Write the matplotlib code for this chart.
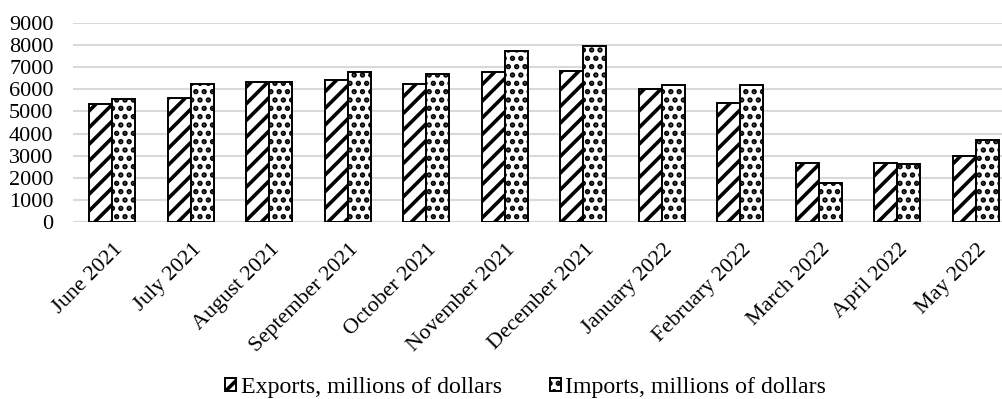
import matplotlib
matplotlib.use("Agg")
import matplotlib.pyplot as plt
import numpy as np

categories = ["June 2021", "July 2021", "August 2021", "September 2021", "October 2021",
              "November 2021", "December 2021", "January 2022", "February 2022",
              "March 2022", "April 2022", "May 2022"]
exports = [5320, 5620, 6310, 6410, 6260, 6790, 6820, 6010, 5360, 2650, 2660, 2970]
imports = [5570, 6230, 6350, 6780, 6700, 7730, 7940, 6190, 6190, 1780, 2620, 3730]
yticks = [0, 1000, 2000, 3000, 4000, 5000, 6000, 7000, 8000, 9000]

plt.rcParams['font.family'] = ['Liberation Serif', 'DejaVu Serif']
plt.rcParams['hatch.linewidth'] = 2.6

fig = plt.figure(figsize=(10.03, 3.99), dpi=100)
ax = fig.add_axes([73/1003, (399-222)/399, (1003-73)/1003, (222-23)/399])

x = np.arange(len(categories))
w = 0.293
b1 = ax.bar(x - w/2, exports, w, color='white', edgecolor='black', hatch='//', linewidth=1.4,
            label='Exports, millions of dollars', zorder=3)
b2 = ax.bar(x + w/2, imports, w, color='white', edgecolor='black', hatch='..', linewidth=1.4,
            label='Imports, millions of dollars', zorder=3)

ax.set_xlim(-0.497, 11.35)
ax.set_ylim(0, 9000)
ax.set_yticks(yticks)
ax.set_yticklabels([str(v) for v in yticks], fontsize=16)
ax.yaxis.grid(True, color='#d9d9d9', linewidth=1.5, zorder=0)
ax.set_axisbelow(True)
for s in ax.spines.values():
    s.set_visible(False)
ax.axhline(0, color='#d9d9d9', linewidth=1.5, zorder=1)
ax.tick_params(axis='both', length=0)
ax.tick_params(axis='y', pad=14)
ax.set_xticks(x + 0.02)
ax.set_xticklabels(categories, rotation=45, ha='right', va='top', rotation_mode='anchor', fontsize=16)
ax.tick_params(axis='x', pad=13)

leg = fig.legend(handles=[b1, b2], loc='center', bbox_to_anchor=(0.524, 0.03), ncol=2,
                 frameon=False, fontsize=17.2, handlelength=0.46, handleheight=0.46,
                 handletextpad=0.2, columnspacing=2.0)

fig.savefig("out.png", dpi=100)
